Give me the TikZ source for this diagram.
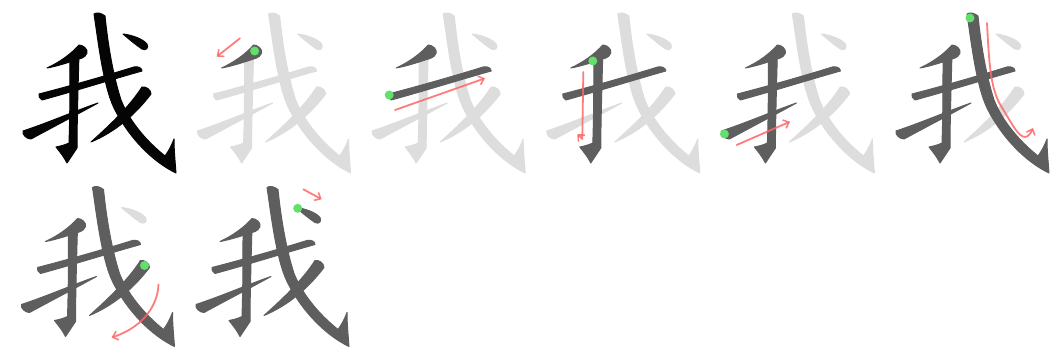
\documentclass[tikz,border=0pt]{standalone}
\usetikzlibrary{arrows.meta}
\definecolor{inkblack}{HTML}{050505}
\definecolor{inkdark}{HTML}{5E5E5E}
\definecolor{inklite}{HTML}{DDDDDD}
\definecolor{dotgreen}{HTML}{62E06C}
\definecolor{arrowred}{HTML}{FF6666}
\tikzset{
  redarrow/.style={draw=arrowred, line width=1.8pt, draw opacity=0.85, line cap=round, line join=round,
    -{Straight Barb[length=5pt,width=9pt,line width=1.6pt]}},
  startdot/.style={fill=dotgreen},
  inkstroke/.style={fill=#1, draw=#1, line width=1pt, line join=round}
}
% stroke outlines of the character, in panel-local pixel coordinates
\def\woA{(47,68) .. controls (60,62) and (71,54) .. (79,45) .. controls (83,45) and (88,49) .. (87,53) .. controls (86,56) and (84,57) .. (82,58) .. controls (70,62) and (58,66) .. (47,68) -- cycle}
\def\woB{(39,94) .. controls (70,86) and (105,76) .. (134,67) .. controls (138,66) and (142,68) .. (142,71) .. controls (110,80) and (75,91) .. (42,100) .. controls (40,99) and (38,96) .. (39,94) -- cycle}
\def\woC{(70,56) -- (79,53) .. controls (78,90) and (77,125) .. (77,148) -- (67,163) .. controls (64,157) and (60,152) .. (56,147) .. controls (61,146) and (65,145) .. (69,143) .. controls (70,115) and (70,85) .. (70,56) -- cycle}
\def\woD{(23,131) .. controls (50,122) and (75,111) .. (98,103) .. controls (78,114) and (55,126) .. (31,139) .. controls (27,139) and (22,135) .. (23,131) -- cycle}
\def\woE{(94,14) .. controls (98,40) and (103,85) .. (114,108) .. controls (129,138) and (153,162) .. (176,173) .. controls (175,160) and (174,150) .. (174,139) .. controls (171,147) and (168,152) .. (165,156) .. controls (145,140) and (129,120) .. (121,100) .. controls (113,75) and (108,45) .. (105,16) .. controls (101,13) and (97,12) .. (94,14) -- cycle}
\def\woF{(91,142) .. controls (110,125) and (130,106) .. (142,87) .. controls (146,86) and (151,90) .. (151,94) .. controls (135,115) and (115,132) .. (91,142) -- cycle}
\def\woG{(123,34) .. controls (132,35) and (143,39) .. (147,44) .. controls (149,48) and (146,51) .. (142,49) .. controls (136,45) and (130,40) .. (123,34) -- cycle}
% #1 x, #2 y, #3 number of finished strokes, #4 colour of finished strokes
\newcommand\wopanel[4]{%
  \begin{scope}[shift={(#1,#2)}]
    \ifnum#3<7 \path[inkstroke=inklite] \woG; \fi
    \ifnum#3<6 \path[inkstroke=inklite] \woF; \fi
    \ifnum#3<5 \path[inkstroke=inklite] \woE; \fi
    \ifnum#3<4 \path[inkstroke=inklite] \woD; \fi
    \ifnum#3<3 \path[inkstroke=inklite] \woC; \fi
    \ifnum#3<2 \path[inkstroke=inklite] \woB; \fi
    \ifnum#3<1 \path[inkstroke=inklite] \woA; \fi
    \ifnum#3>0 \path[inkstroke=#4] \woA; \fi
    \ifnum#3>1 \path[inkstroke=#4] \woB; \fi
    \ifnum#3>2 \path[inkstroke=#4] \woC; \fi
    \ifnum#3>3 \path[inkstroke=#4] \woD; \fi
    \ifnum#3>4 \path[inkstroke=#4] \woE; \fi
    \ifnum#3>5 \path[inkstroke=#4] \woF; \fi
    \ifnum#3>6 \path[inkstroke=#4] \woG; \fi
  \end{scope}}
\begin{document}
\begin{tikzpicture}[x=1pt,y=-1pt]
  \fill[white] (0,0) rectangle (1053,352);
  \useasboundingbox (0,0) rectangle (1053,352);
  % row 1
  \wopanel{0}{0}{7}{inkblack}
  \wopanel{174.6}{0}{1}{inkdark}
  \wopanel{349.2}{0}{2}{inkdark}
  \wopanel{523.8}{0}{3}{inkdark}
  \wopanel{698.4}{0}{4}{inkdark}
  \wopanel{873}{0}{5}{inkdark}
  % row 2
  \wopanel{-1.5}{173.5}{6}{inkdark}
  \wopanel{173}{173.5}{7}{inkdark}
  % direction arrows and start dots
  \begin{scope}[shift={(174.6,0)}]
    \coordinate (a2s) at (65.4,38.3); \coordinate (a2e) at (42.1,56.7);
    \draw[redarrow] (a2s) -- (a2e);
    \fill[startdot] (80,51) circle[radius=4.5pt];
  \end{scope}
  \begin{scope}[shift={(349.2,0)}]
    \coordinate (a3s) at (45.8,110); \coordinate (a3e) at (135.8,78.3);
    \draw[redarrow] (a3s) -- (a3e);
    \fill[startdot] (40,95) circle[radius=4.5pt];
  \end{scope}
  \begin{scope}[shift={(523.8,0)}]
    \coordinate (a4s) at (59.5,72); \coordinate (a4m) at (58.5,139); \coordinate (a4e) at (53.5,134);
    \draw[redarrow] (a4s) -- (a4m) -- (a4e);
    \fill[startdot] (69,61) circle[radius=4.5pt];
  \end{scope}
  \begin{scope}[shift={(698.4,0)}]
    \coordinate (a5s) at (38.3,145); \coordinate (a5e) at (91.6,121.7);
    \draw[redarrow] (a5s) -- (a5e);
    \fill[startdot] (26,134) circle[radius=4.5pt];
  \end{scope}
  \begin{scope}[shift={(873,0)}]
    \coordinate (a6s) at (114,23); \coordinate (a6m) at (128,106); \coordinate (a6b) at (152,137); \coordinate (a6e) at (160,128);
    \draw[redarrow] (a6s) .. controls (116,60) and (117,88) .. (a6m) .. controls (138,122) and (145,137) .. (a6b) .. controls (155,137) and (158,133) .. (a6e);
    \fill[startdot] (97,18) circle[radius=4.5pt];
  \end{scope}
  \begin{scope}[shift={(-1.5,173.5)}]
    \coordinate (a7s) at (160,111); \coordinate (a7e) at (113,164);
    \draw[redarrow] (a7s) .. controls (159,135) and (141,155) .. (a7e);
    \fill[startdot] (146,92) circle[radius=4.5pt];
  \end{scope}
  \begin{scope}[shift={(173,173.5)}]
    \coordinate (a8s) at (130.3,15.8); \coordinate (a8e) at (148.7,25.8);
    \draw[redarrow] (a8s) -- (a8e);
    \fill[startdot] (124.7,34.8) circle[radius=4.5pt];
  \end{scope}
\end{tikzpicture}
\end{document}
